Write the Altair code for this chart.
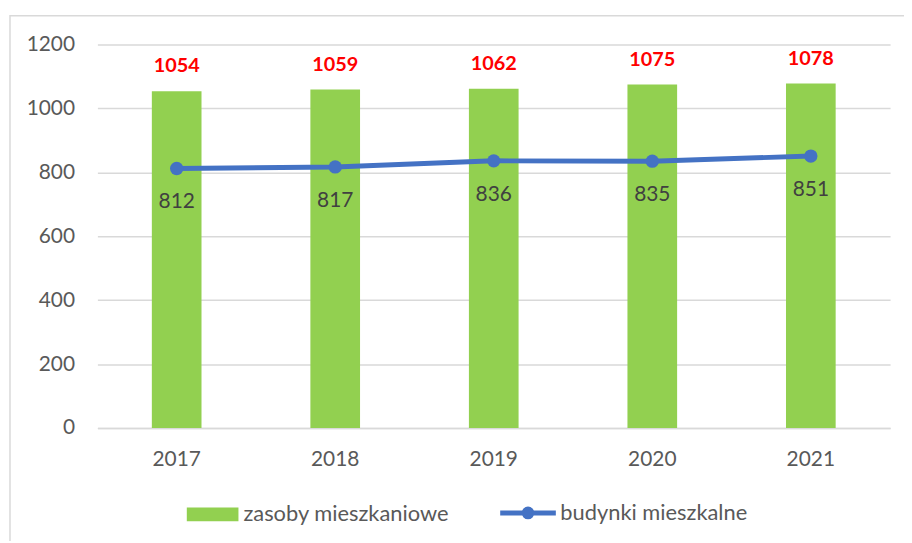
import altair as alt
import pandas as pd

lata = ["2017", "2018", "2019", "2020", "2021"]
zasoby = [1054, 1059, 1062, 1075, 1078]
budynki = [812, 817, 836, 835, 851]
nazwa_zasoby = "zasoby mieszkaniowe"
nazwa_budynki = "budynki mieszkalne"

df = pd.DataFrame({
    "rok": lata,
    "zasoby": zasoby,
    "budynki": budynki,
    "s1": [nazwa_zasoby] * len(lata),
    "s2": [nazwa_budynki] * len(lata),
})

FONT = "Lato"
GREEN = "#92D050"
BLUE = "#4472C4"
GRID = "#D9D9D9"
TXT = "#595959"

W, H = 798, 386

x = alt.X("rok:O", sort=lata, title=None,
          scale=alt.Scale(paddingInner=0, paddingOuter=0),
          axis=alt.Axis(labelAngle=0, ticks=False, grid=False, domain=True,
                        domainColor=GRID, domainWidth=1.5, labelPadding=21,
                        labelFont=FONT, labelFontSize=21, labelColor=TXT))
yscale = alt.Scale(domain=[0, 1200], nice=False, zero=True)

base = alt.Chart(df)

border = alt.Chart(pd.DataFrame({"a": [0]})).mark_rect(
    fill="transparent", stroke=GRID, strokeWidth=1.5
).encode(x=alt.value(-88), x2=alt.value(830), y=alt.value(-29), y2=alt.value(520))

bars = base.mark_bar(size=50).encode(
    x=x,
    y=alt.Y("zasoby:Q", scale=yscale, title=None,
            axis=alt.Axis(values=[0, 200, 400, 600, 800, 1000, 1200], format="d",
                          grid=True, gridColor=GRID, gridWidth=1.5, domain=False,
                          ticks=False, labelPadding=23, labelFont=FONT,
                          labelFontSize=21, labelColor=TXT)),
    fill=alt.Fill("s1:N", scale=alt.Scale(domain=[nazwa_zasoby], range=[GREEN]),
                  legend=alt.Legend(title=None, orient="none", legendX=90, legendY=447,
                                    symbolType="M-1,-0.27H1V0.27H-1Z", symbolSize=2704,
                                    symbolStrokeWidth=0, labelFont=FONT, labelFontSize=22,
                                    labelColor=TXT, labelOffset=5, labelLimit=0,
                                    padding=0)),
)

line = base.mark_line(color=BLUE, strokeWidth=5).encode(
    x=x, y=alt.Y("budynki:Q", scale=yscale)
)

points = base.mark_point(filled=True, size=180, opacity=1).encode(
    x=x, y=alt.Y("budynki:Q", scale=yscale),
    fill=alt.Fill("s2:N", scale=alt.Scale(domain=[nazwa_budynki], range=[BLUE]),
                  legend=alt.Legend(title=None, orient="none", legendX=403, legendY=441,
                                    symbolType="M-1,0H1M0.14,0A0.14,0.14,0,1,1,-0.14,0A0.14,0.14,0,1,1,0.14,0Z",
                                    symbolSize=3136, symbolStrokeColor=BLUE,
                                    symbolStrokeWidth=5, symbolFillColor=BLUE,
                                    labelFont=FONT, labelFontSize=22,
                                    labelColor=TXT, labelOffset=2, labelLimit=0,
                                    padding=0)),
)

lab_red = base.mark_text(font=FONT, fontSize=20, fontWeight="bold", color="#FF0000",
                         baseline="middle", dy=-25).encode(
    x=x, y=alt.Y("zasoby:Q", scale=yscale), text="zasoby:Q")

lab_gray = base.mark_text(font=FONT, fontSize=21, color="#404040",
                          baseline="middle", dy=34).encode(
    x=x, y=alt.Y("budynki:Q", scale=yscale), text="budynki:Q")

chart = alt.layer(border, bars, line, points, lab_red, lab_gray).resolve_scale(
    fill="independent"
).properties(
    width=W, height=H,
    autosize=alt.AutoSizeParams(type="none"),
    padding={"left": 90, "top": 35, "right": 14, "bottom": 112},
).configure_view(strokeWidth=0)

chart.save("out.html", embed_options={"renderer": "svg", "actions": False})
